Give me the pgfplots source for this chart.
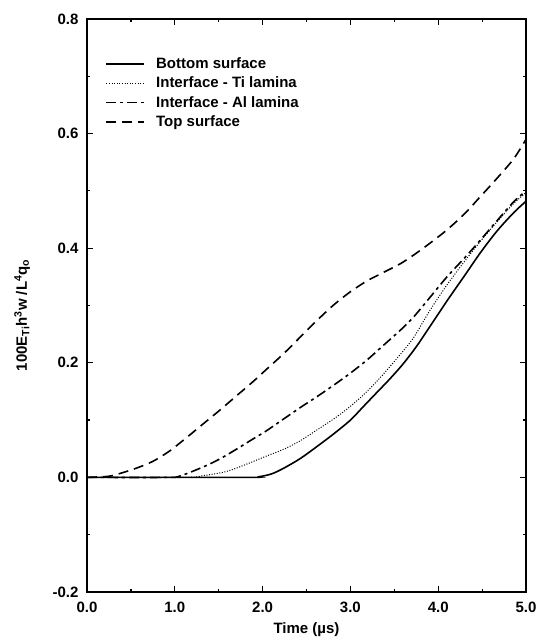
\documentclass[border=0pt]{standalone}
\usepackage{fontspec}
\setmainfont{Liberation Sans}
\usepackage{pgfplots}
\pgfplotsset{compat=1.18}

\newcommand{\lbl}{\fontsize{15}{17}\selectfont\bfseries}

\begin{document}
\begin{tikzpicture}
\begin{axis}[
  name=ax,
  scale only axis,
  width=439pt, height=573pt,
  xmin=0, xmax=5, ymin=-0.2, ymax=0.8,
  xtick={0,1,2,3,4,5}, xticklabels={0.0,1.0,2.0,3.0,4.0,5.0},
  ytick={-0.2,0,0.2,0.4,0.6,0.8}, yticklabels={-0.2,0.0,0.2,0.4,0.6,0.8},
  minor x tick num=1, minor y tick num=1,
  tick align=inside,
  major tick length=6pt, minor tick length=3.5pt,
  axis line style={line width=1.8pt},
  tick style={line width=1.2pt, black},
  tick label style={font=\lbl},
  yticklabel style={xshift=-5pt},
  xticklabel style={yshift=-6pt},
  label style={font=\lbl},
  xlabel={Time (µs)},
  ylabel={100E\textsubscript{Ti}h\textsuperscript{3}w /L\textsuperscript{4}q\textsubscript{o}},
  ylabel style={at={(axis description cs:-0.148,0.483)}, anchor=center},
  xlabel style={at={(axis description cs:0.5,-0.066)}, anchor=center},
  legend style={at={(axis description cs:0.035,0.94)}, anchor=north west,
                draw=none, fill=none, font=\lbl, row sep=3pt,
                cells={anchor=west},
                /tikz/every odd column/.append style={column sep=9pt}},
  legend image code/.code={\draw[#1] (0pt,0pt) -- (38pt,0pt);},
]
% bottom surface
\addplot[black, line width=1.6pt, smooth] coordinates {
  (0,0) (1.8,0) (1.95,0.001) (2.1,0.006) (2.24,0.016) (2.43,0.033)
  (2.62,0.054) (2.81,0.076) (3.00,0.100) (3.15,0.124) (3.30,0.148)
  (3.45,0.172) (3.60,0.198) (3.75,0.228) (3.90,0.262) (4.10,0.308)
  (4.30,0.352) (4.48,0.392) (4.67,0.430) (4.86,0.462) (5.00,0.482)};
% interface - Ti lamina
\addplot[black, line width=1.0pt, dash pattern=on 1pt off 1.6pt, smooth] coordinates {
  (0,0) (1.1,0) (1.32,0.003) (1.58,0.010) (1.80,0.022) (2.04,0.037)
  (2.24,0.049) (2.43,0.064) (2.62,0.083) (2.81,0.102) (3.00,0.124)
  (3.19,0.150) (3.38,0.181) (3.57,0.215) (3.72,0.244) (3.90,0.290)
  (4.10,0.336) (4.30,0.377) (4.48,0.412) (4.67,0.446) (4.86,0.478) (5.00,0.497)};
% interface - Al lamina
\addplot[black, line width=1.6pt, dash pattern=on 10pt off 4pt on 3pt off 4pt, smooth] coordinates {
  (0,0) (0.9,0) (1.05,0.002) (1.32,0.018) (1.51,0.032) (1.70,0.049)
  (1.89,0.067) (2.04,0.081) (2.24,0.102) (2.43,0.122) (2.62,0.141)
  (2.81,0.161) (3.00,0.182) (3.19,0.205) (3.38,0.231) (3.57,0.257)
  (3.72,0.280) (3.90,0.313) (4.10,0.350) (4.30,0.383) (4.48,0.414)
  (4.67,0.448) (4.86,0.481) (5.00,0.500)};
% top surface
\addplot[black, line width=1.6pt, dash pattern=on 10pt off 6pt, smooth] coordinates {
  (0,0) (0.25,0.002) (0.4,0.008) (0.56,0.016) (0.75,0.028) (0.94,0.046)
  (1.13,0.069) (1.32,0.093) (1.51,0.117) (1.70,0.142) (1.89,0.167)
  (2.04,0.188) (2.24,0.216) (2.43,0.245) (2.62,0.274) (2.81,0.301)
  (3.00,0.324) (3.19,0.343) (3.38,0.358) (3.57,0.373) (3.72,0.388)
  (3.90,0.408) (4.10,0.432) (4.30,0.460) (4.48,0.490) (4.67,0.522)
  (4.86,0.556) (5.00,0.590)};
\legend{Bottom surface, Interface - Ti lamina, Interface - Al lamina, Top surface}
\end{axis}
\pgfresetboundingbox
\path[use as bounding box] ([shift={(-87pt,-49pt)}]ax.south west)
  rectangle ([shift={(11pt,19pt)}]ax.north east);
\end{tikzpicture}
\end{document}
